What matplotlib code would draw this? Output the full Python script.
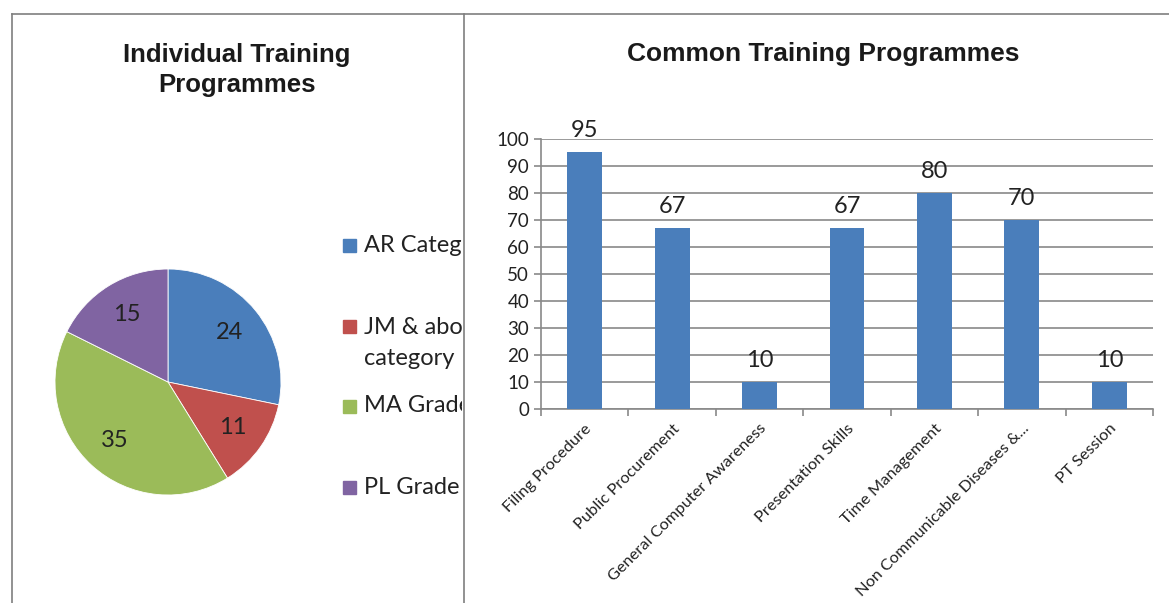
import matplotlib.pyplot as plt
from matplotlib.patches import Rectangle
from matplotlib.lines import Line2D

# pie data
pie_labels = ["AR Category", "JM & above\ncategory", "MA Grade", "PL Grade"]
pie_values = [24, 11, 35, 15]
pie_colors = ["#4A7EBB", "#C0504D", "#9BBB59", "#8064A2"]

# bar data
programmes = ["Filing Procedure", "Public Procurement", "General Computer Awareness",
              "Presentation Skills", "Time Management", "Non Communicable Diseases &...",
              "PT Session"]
participants = [95, 67, 10, 67, 80, 70, 10]

W, H = 1169, 603
fig = plt.figure(figsize=(W / 100, H / 100), dpi=100)
body = "Lato"
grey = "#898989"

def fx(px):
    return px / W

def fy(py):
    return 1 - py / H

# panel frames
for xs, ys in [([12, 12], [14, H]), ([12, W], [14, 14]), ([464, 464], [14, H])]:
    fig.add_artist(Line2D([fx(x) for x in xs], [fy(y) for y in ys], color="#7f7f7f", lw=1.2))

# pie
ax1 = fig.add_axes([fx(55), fy(495), fx(226), 226 / H])
total = sum(pie_values)
wedges, _, autotexts = ax1.pie(pie_values, colors=pie_colors, startangle=90, counterclock=False,
                               autopct=lambda p: f"{p * total / 100:.0f}", pctdistance=0.7,
                               wedgeprops=dict(edgecolor="white", linewidth=0.6),
                               textprops=dict(fontsize=17, family=body, color="#222222"))
ax1.set_xlim(-1, 1)
ax1.set_ylim(-1, 1)
ax1.set_aspect("equal")
fig.text(fx(237), fy(70), "Individual Training\nProgrammes", ha="center", va="center",
         fontsize=18.5, fontweight="bold", family="Liberation Sans", color="#1a1a1a",
         linespacing=1.35)

# legend, clipped by the panel border
clip = Rectangle((0, 0), fx(462), 1, transform=fig.transFigure, visible=False)
fig.add_artist(clip)
leg_y = [245, 343, 406, 487]
sq_y = [245, 326, 406, 487]
for lab, col, y, sy in zip(pie_labels, pie_colors, leg_y, sq_y):
    fig.add_artist(Rectangle((fx(343), fy(sy + 7)), fx(13), 13 / H, color=col,
                             transform=fig.transFigure))
    t = fig.text(fx(364), fy(y), lab, ha="left", va="center", fontsize=17, family=body,
                 color="#222222", linespacing=1.55)
    t.set_clip_path(clip)

# bars
ax2 = fig.add_axes([fx(541), fy(409), fx(612), 270 / H])
x = list(range(len(programmes)))
bars = ax2.bar(x, participants, width=0.4, color="#4A7EBB", zorder=3)
for b, v in zip(bars, participants):
    ax2.annotate(str(v), (b.get_x() + b.get_width() / 2, v), xytext=(0, 8),
                 textcoords="offset points", ha="center", va="bottom",
                 fontsize=17, family=body, color="#222222", zorder=4)
ax2.set_xlim(-0.5, len(programmes) - 0.5)
ax2.set_ylim(0, 100)
ax2.set_yticks(range(0, 101, 10))
ax2.yaxis.grid(True, color=grey, lw=1.2, zorder=0)
ax2.set_xticks(x)
ax2.set_xticklabels(programmes, rotation=45, ha="right", rotation_mode="anchor",
                    fontsize=11.8, family=body, color="#222222")
ax2.set_xticks([i - 0.5 for i in range(len(programmes) + 1)], minor=True)
ax2.tick_params(axis="x", which="major", length=0, pad=9)
ax2.tick_params(axis="x", which="minor", length=5, color=grey, width=1.2)
ax2.tick_params(axis="y", length=5, color=grey, width=1.2, labelsize=13.5, labelcolor="#222222")
for lab in ax2.get_yticklabels():
    lab.set_family(body)
for s in ["top", "right"]:
    ax2.spines[s].set_visible(False)
for s in ["left", "bottom"]:
    ax2.spines[s].set_color(grey)
    ax2.spines[s].set_linewidth(1.2)
fig.text(fx(823), fy(54), "Common Training Programmes", ha="center", va="center",
         fontsize=19, fontweight="bold", family="Liberation Sans", color="#1a1a1a")

fig.savefig("out.png", dpi=100)
